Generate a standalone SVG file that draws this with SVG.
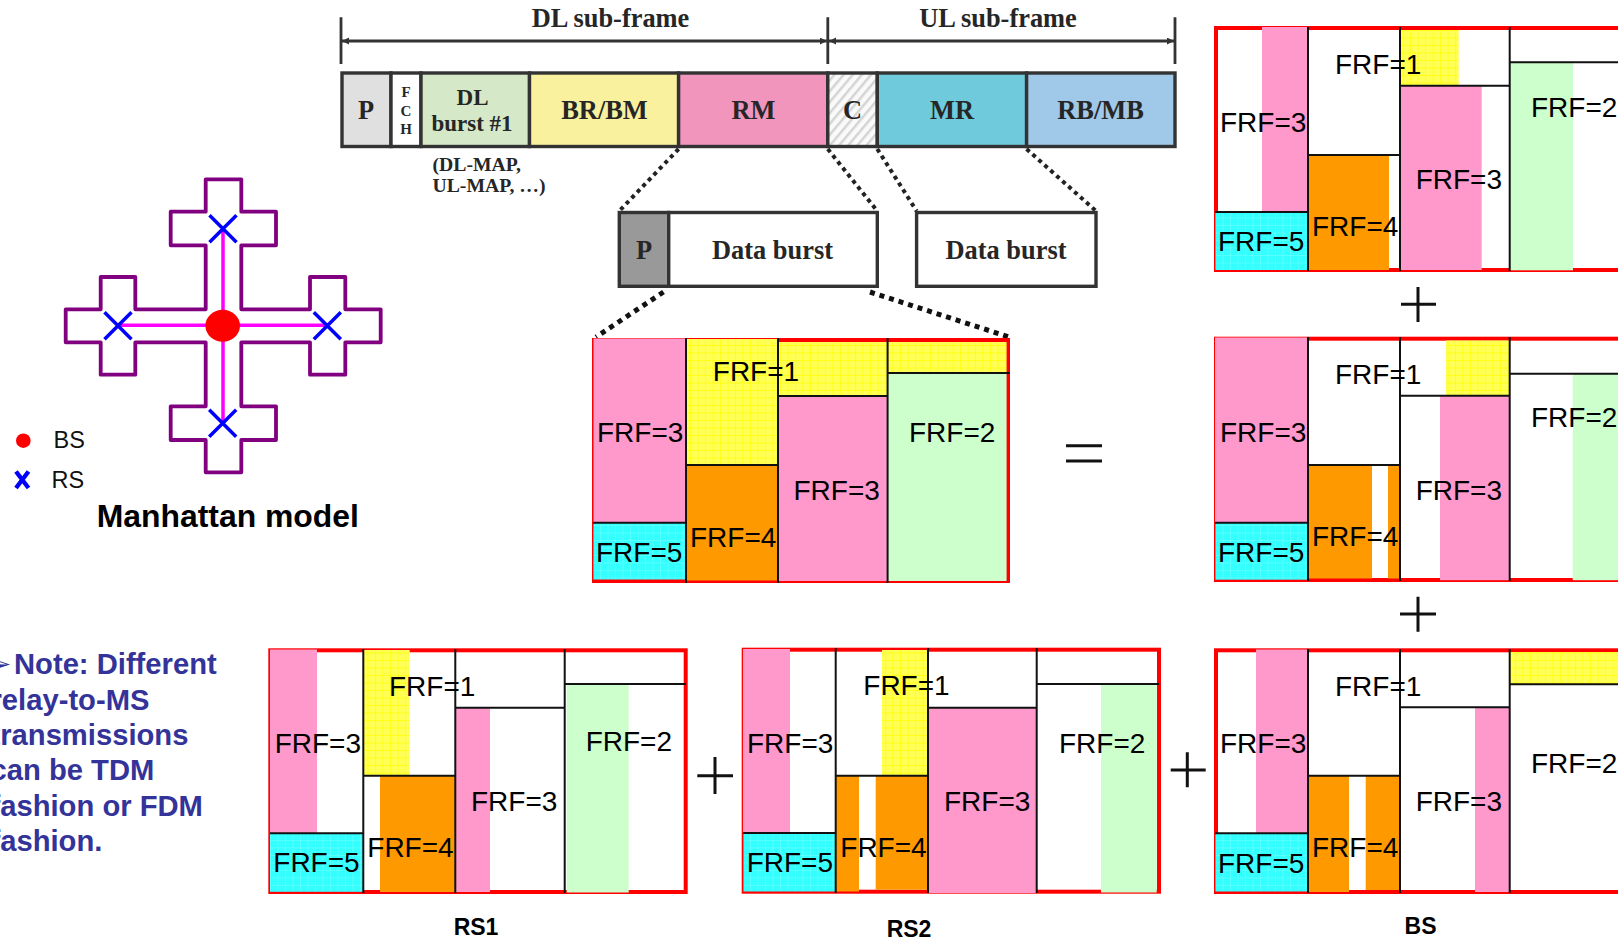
<svg xmlns="http://www.w3.org/2000/svg" width="1618" height="939" viewBox="0 0 1618 939">
<style>
.s{font-family:"Liberation Serif",serif;font-weight:bold;fill:#262626;text-anchor:middle}
.f{font-family:"Liberation Sans",Arial,sans-serif;font-size:28px;fill:#000}
.b{font-family:"Liberation Sans",Arial,sans-serif;font-weight:bold;fill:#000}
.n{font-family:"Liberation Sans",Arial,sans-serif;font-weight:bold;font-size:29.2px;fill:#333399}
.cell{stroke:#333;stroke-width:3.4}
.frame{fill:#fff;stroke:#f00;stroke-width:4}
.pk{fill:#ff99cc}.or{fill:#ff9900}.gr{fill:#ccffcc}.ye{fill:url(#yel)}.cy{fill:url(#cya)}
.k{stroke:#111;stroke-width:2;fill:none}
.x{stroke:#00f;stroke-width:3.5;fill:none}
.dot{stroke:#222;stroke-width:4;stroke-dasharray:4 4;fill:none}
.dot2{stroke:#111;stroke-width:5;stroke-dasharray:5 5;fill:none}
.arr{stroke:#333;stroke-width:2.8;fill:none}
.pl{stroke:#111;stroke-width:3;fill:none}
</style>
<defs>
<pattern id="yel" width="7.5" height="7.5" patternUnits="userSpaceOnUse"><rect width="7.5" height="7.5" fill="#ffff55"/><path d="M0 0H7.5M0 0V7.5" stroke="#ffff00" stroke-width="1.2"/></pattern>
<pattern id="cya" width="7.5" height="7.5" patternUnits="userSpaceOnUse"><rect width="7.5" height="7.5" fill="#33ffff"/><path d="M0 0H7.5M0 0V7.5" stroke="#77ffff" stroke-width="1"/></pattern>
<pattern id="hat" width="7" height="7" patternUnits="userSpaceOnUse" patternTransform="rotate(-50)"><rect width="7" height="7" fill="#fafafa"/><rect width="7" height="2.5" fill="#d4d4d4"/></pattern>
<marker id="ah" markerWidth="8" markerHeight="8" refX="7" refY="3.5" orient="auto-start-reverse" markerUnits="userSpaceOnUse"><path d="M0 0L7 3.5L0 7z" fill="#333"/></marker>
</defs>
<rect width="1618" height="939" fill="#fff"/>

<g id="connectors">
<path class="arr" d="M341 17.3V64M827.8 17.3V64M1175 17.3V64"/>
<path class="arr" marker-start="url(#ah)" marker-end="url(#ah)" d="M342 41H826.8"/>
<path class="arr" marker-start="url(#ah)" marker-end="url(#ah)" d="M829 41H1174"/>
<path class="dot" d="M678.6 149L619.3 211"/>
<path class="dot" d="M827.8 149L877.3 211"/>
<path class="dot" d="M877.3 149L916.6 211"/>
<path class="dot" d="M1026.6 149L1096 211"/>
<path class="dot2" d="M663.5 292L596 337"/>
<path class="dot2" d="M870 292L1009 337"/>
</g>

<g id="frame-labels">
<text class="s" font-size="26.4" x="610.5" y="27">DL sub-frame</text>
<text class="s" font-size="26.4" x="998" y="27">UL sub-frame</text>
</g>

<g id="bar">
<rect class="cell" x="342" y="73" width="49" height="73.5" fill="#e0e0e0"/>
<rect class="cell" x="391" y="73" width="30" height="73.5" fill="#fff"/>
<rect class="cell" x="421" y="73" width="108.5" height="73.5" fill="#d5e8c8"/>
<rect class="cell" x="529.5" y="73" width="149.1" height="73.5" fill="#f9f19e"/>
<rect class="cell" x="678.6" y="73" width="149.2" height="73.5" fill="#f195bd"/>
<rect class="cell" x="827.8" y="73" width="49.5" height="73.5" fill="url(#hat)"/>
<rect class="cell" x="877.3" y="73" width="149.3" height="73.5" fill="#6fcbdc"/>
<rect class="cell" x="1026.6" y="73" width="148.4" height="73.5" fill="#a0c8e8"/>
<text class="s" font-size="26.4" x="366" y="119">P</text>
<text class="s" font-size="15" x="406" y="97">F</text>
<text class="s" font-size="15" x="406" y="115.7">C</text>
<text class="s" font-size="15" x="406" y="134">H</text>
<text class="s" font-size="23" x="472.5" y="104.7">DL</text>
<text class="s" font-size="23" x="472" y="131">burst #1</text>
<text class="s" font-size="26.4" x="604.5" y="119">BR/BM</text>
<text class="s" font-size="26.4" x="753.5" y="119">RM</text>
<text class="s" font-size="26.4" x="852.5" y="119">C</text>
<text class="s" font-size="26.4" x="952" y="119">MR</text>
<text class="s" font-size="26.4" x="1100.5" y="119">RB/MB</text>
<text class="s" font-size="19.7" x="432.5" y="170.7" style="text-anchor:start">(DL-MAP,</text>
<text class="s" font-size="19.7" x="432.5" y="192" style="text-anchor:start">UL-MAP, …)</text>
</g>

<g id="burst-1">
<rect class="cell" x="619.3" y="212.5" width="49.4" height="73.8" fill="#999"/>
<rect class="cell" x="668.7" y="212.5" width="208.6" height="73.8" fill="#fff"/>
<text class="s" font-size="26.4" x="644" y="258.8">P</text>
<text class="s" font-size="26.4" x="772.5" y="258.8">Data burst</text>
</g>
<g id="burst-2">
<rect class="cell" x="916.6" y="212.5" width="179.4" height="73.8" fill="#fff"/>
<text class="s" font-size="26.4" x="1006" y="258.8">Data burst</text>
</g>

<g id="manhattan">
<path d="M205.7 179.3H241.3V211.7H276V245.3H241.3V309.3H310V277H345.3V309.3H380.7V342.3H345.3V374.7H310V342.3H241.3V406.3H276V440H241.3V472.3H205.7V440H170.7V406.3H205.7V342.3H135.3V374.7H100.7V342.3H65.7V309.3H100.7V277H135.3V309.3H205.7V245.3H170.7V211.7H205.7Z" fill="#fff" stroke="#800080" stroke-width="3.8" stroke-linejoin="round"/>
<path d="M223 228V423M117.3 325.3H327.3" stroke="#ff00ff" stroke-width="3.5" fill="none"/>
<ellipse cx="222.7" cy="325.7" rx="17.3" ry="16" fill="#f00"/>
<path class="x" d="M209.5 215.2L236.5 242.2M236.5 215.2L209.5 242.2"/>
<path class="x" d="M104.5 312.2L131.5 339.2M131.5 312.2L104.5 339.2"/>
<path class="x" d="M313.8 312.2L340.8 339.2M340.8 312.2L313.8 339.2"/>
<path class="x" d="M209.2 409.8L236.2 436.8M236.2 409.8L209.2 436.8"/>
<circle cx="23.3" cy="440.7" r="7.3" fill="#f00"/>
<path d="M16 471.5L28.5 488M28.5 471.5L16 488" stroke="#00f" stroke-width="4.4" fill="none"/>
<text x="53.5" y="448.3" font-family="Liberation Sans, Arial, sans-serif" font-size="23.5" fill="#111">BS</text>
<text x="51.5" y="487.5" font-family="Liberation Sans, Arial, sans-serif" font-size="23.5" fill="#111">RS</text>
<text class="b" font-size="31.9" x="96.7" y="527">Manhattan model</text>
</g>

<g id="note">
<text x="-9" y="672" font-family="DejaVu Sans, sans-serif" font-size="24" fill="#333399">➢</text>
<text class="n" x="14" y="674.3">Note: Different</text>
<text class="n" x="-9.5" y="710">relay-to-MS</text>
<text class="n" x="-9.5" y="745">transmissions</text>
<text class="n" x="-9.5" y="780">can be TDM</text>
<text class="n" x="-9.5" y="815.7">fashion or FDM</text>
<text class="n" x="-9.5" y="850.7">fashion.</text>
</g>

<g id="panel-total">
<rect class="frame" x="594" y="340" width="414" height="241"/>
<rect class="pk" x="593.5" y="338.5" width="92.5" height="184.5"/>
<rect class="cy" x="593.5" y="523" width="92.5" height="56.5"/>
<rect class="ye" x="686" y="339" width="92" height="126"/>
<rect class="or" x="686" y="465" width="92" height="115.5"/>
<rect class="ye" x="778" y="342" width="109.6" height="54"/>
<rect class="pk" x="778" y="396" width="109.6" height="185"/>
<rect class="ye" x="887.6" y="342" width="119" height="31"/>
<rect class="gr" x="887.6" y="373" width="119" height="208"/>
<path class="k" d="M686 338V583M778 338V583M887.6 338V583M593 522.7H686M686 465H778M778 396H887.6M887.6 373H1010"/>
<text class="f" x="597" y="442">FRF=3</text>
<text class="f" x="712.8" y="381">FRF=1</text>
<text class="f" x="596" y="561.7">FRF=5</text>
<text class="f" x="690" y="546.7">FRF=4</text>
<text class="f" x="793.5" y="500">FRF=3</text>
<text class="f" x="909" y="441.7">FRF=2</text>
</g>
<g id="equals"><path d="M1066 445.7H1102M1066 461H1102" stroke="#111" stroke-width="3" fill="none"/></g>

<g id="panel-a">
<rect class="frame" x="1216" y="28" width="416" height="242"/>
<rect class="pk" x="1262" y="27" width="46" height="185"/>
<rect class="cy" x="1215.5" y="212" width="92.5" height="58"/>
<rect class="or" x="1308" y="155" width="81" height="115"/>
<rect class="ye" x="1400" y="30" width="58.7" height="55.7"/>
<rect class="pk" x="1400" y="85.7" width="81.7" height="184.3"/>
<rect class="gr" x="1509.7" y="62.3" width="63.3" height="208"/>
<path class="k" d="M1308 27V271M1400 27V271M1509.7 27V271M1215 212H1308M1308 155H1400M1400 85.7H1509.7M1509.7 62.3H1618"/>
<text class="f" x="1220" y="131.7">FRF=3</text>
<text class="f" x="1335" y="74">FRF=1</text>
<text class="f" x="1218" y="250.7">FRF=5</text>
<text class="f" x="1312" y="235.7">FRF=4</text>
<text class="f" x="1415.7" y="189.3">FRF=3</text>
<text class="f" x="1531" y="116.7">FRF=2</text>
</g>
<g id="plus-1"><path class="pl" d="M1401 304.3H1436M1418 287V322"/></g>

<g id="panel-b">
<rect class="frame" x="1216" y="338.7" width="416" height="241.3"/>
<rect class="pk" x="1215" y="337.5" width="93" height="185.2"/>
<rect class="cy" x="1215.5" y="522.7" width="92.5" height="57"/>
<rect class="or" x="1308" y="465" width="64" height="113.5"/>
<rect class="or" x="1388" y="465" width="12" height="113.5"/>
<rect class="ye" x="1446" y="340.5" width="63.7" height="55.2"/>
<rect class="pk" x="1440" y="395.7" width="69.7" height="184.5"/>
<rect class="gr" x="1572.7" y="373.7" width="45.3" height="206.5"/>
<path class="k" d="M1308 337V581M1400 337V581M1509.7 337V581M1215 522.7H1308M1308 465H1400M1400 395.7H1509.7M1509.7 373.7H1618"/>
<text class="f" x="1220" y="442">FRF=3</text>
<text class="f" x="1335" y="384">FRF=1</text>
<text class="f" x="1218" y="561.7">FRF=5</text>
<text class="f" x="1312" y="546">FRF=4</text>
<text class="f" x="1415.7" y="499.5">FRF=3</text>
<text class="f" x="1531" y="427">FRF=2</text>
</g>
<g id="plus-2"><path class="pl" d="M1400 614H1436M1418 596.7V631.7"/></g>

<g id="panel-bs">
<rect class="frame" x="1216" y="650.3" width="416" height="241.7"/>
<rect class="pk" x="1256" y="649.5" width="52" height="183.8"/>
<rect class="cy" x="1215.5" y="833.3" width="92.5" height="58.2"/>
<rect class="or" x="1308" y="775.7" width="41" height="116.3"/>
<rect class="or" x="1365.7" y="775.7" width="34.3" height="114.3"/>
<rect class="pk" x="1475" y="707.3" width="34.7" height="184.7"/>
<rect class="ye" x="1509.7" y="652" width="108.3" height="32.3"/>
<path class="k" d="M1308 649V893M1400 649V893M1509.7 649V893M1215 833.3H1308M1308 775.7H1400M1400 707.3H1509.7M1509.7 684.3H1618"/>
<text class="f" x="1220" y="752.7">FRF=3</text>
<text class="f" x="1335" y="696">FRF=1</text>
<text class="f" x="1218" y="872.7">FRF=5</text>
<text class="f" x="1312" y="856.7">FRF=4</text>
<text class="f" x="1415.7" y="810.7">FRF=3</text>
<text class="f" x="1531" y="773.3">FRF=2</text>
<text class="b" font-size="23" x="1420.5" y="934.3" text-anchor="middle">BS</text>
</g>
<g id="plus-3"><path class="pl" d="M1170.7 770H1205.7M1187.3 752.3V787.3"/></g>

<g id="panel-rs1">
<rect class="frame" x="270.3" y="650.3" width="415.4" height="241.7"/>
<rect class="pk" x="270" y="649.5" width="47" height="183.8"/>
<rect class="cy" x="270" y="833.3" width="93.3" height="58.5"/>
<rect class="ye" x="363.3" y="650" width="46.4" height="125.7"/>
<rect class="or" x="380" y="775.7" width="75.3" height="116.3"/>
<rect class="pk" x="455.3" y="707.7" width="34.7" height="184.3"/>
<rect class="gr" x="566.7" y="684" width="62" height="208.5"/>
<path class="k" d="M363.3 649V893M455.3 649V893M564.7 649V893M270 833.3H363.3M363.3 775.7H455.3M455.3 707.7H564.7M564.7 684H686"/>
<text class="f" x="274.7" y="753.3">FRF=3</text>
<text class="f" x="389" y="696">FRF=1</text>
<text class="f" x="273.3" y="872.3">FRF=5</text>
<text class="f" x="367.3" y="857.3">FRF=4</text>
<text class="f" x="471" y="810.7">FRF=3</text>
<text class="f" x="585.7" y="750.7">FRF=2</text>
<text class="b" font-size="23" x="476" y="935" text-anchor="middle">RS1</text>
</g>
<g id="plus-4"><path class="pl" d="M697.3 775.7H733M715 757V794"/></g>

<g id="panel-rs2">
<rect class="frame" x="743.7" y="649.7" width="415.3" height="242"/>
<rect class="pk" x="743" y="649" width="47" height="184"/>
<rect class="cy" x="743.5" y="833" width="92.2" height="58.5"/>
<rect class="ye" x="882" y="650" width="46" height="125.7"/>
<rect class="or" x="835.7" y="775.7" width="23.3" height="115.8"/>
<rect class="or" x="875.7" y="775.7" width="52.3" height="114"/>
<rect class="pk" x="928" y="707.7" width="108.7" height="185.3"/>
<rect class="gr" x="1101" y="684" width="55.7" height="208.5"/>
<path class="k" d="M835.7 648V893M928 648V893M1036.7 648V893M743 833H835.7M835.7 775.7H928M928 707.7H1036.7M1036.7 684H1159"/>
<text class="f" x="747" y="752.7">FRF=3</text>
<text class="f" x="863.3" y="695">FRF=1</text>
<text class="f" x="746.7" y="872.3">FRF=5</text>
<text class="f" x="840.3" y="857.3">FRF=4</text>
<text class="f" x="944" y="810.7">FRF=3</text>
<text class="f" x="1059" y="752.7">FRF=2</text>
<text class="b" font-size="23" x="909" y="936.7" text-anchor="middle">RS2</text>
</g>
</svg>
